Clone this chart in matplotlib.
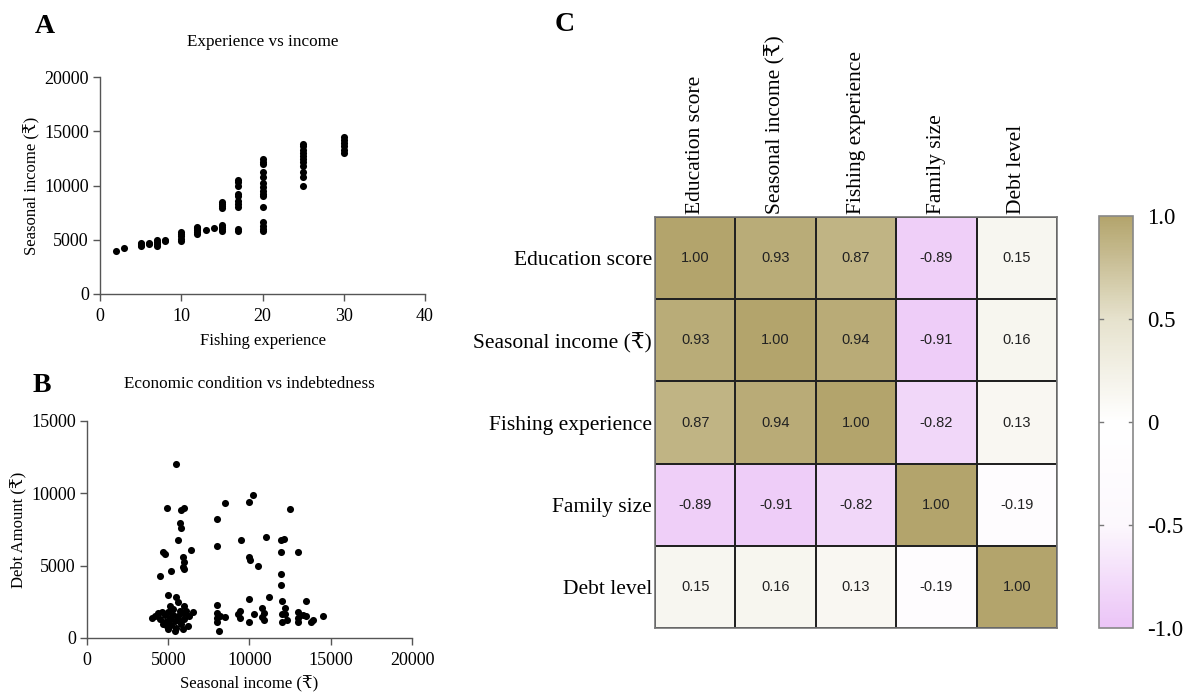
"""Three-panel fisher survey figure: two scatters and a correlation heatmap."""

import matplotlib.pyplot as plt
import numpy as np
from matplotlib.colors import LinearSegmentedColormap

SERIF = ["Liberation Serif", "DejaVu Serif", "DejaVu Sans"]
SANS = ["Liberation Sans", "DejaVu Sans"]
plt.rcParams["font.family"] = SERIF

# --- Panel A: fishing experience (years) vs seasonal income (Rs) ---
exp_years = (
    [2, 3] + [5] * 4 + [6] * 2 + [7] * 4 + [8] * 2 + [10] * 5 + [12] * 5
    + [13, 14] + [15] * 8 + [17] * 10 + [20] * 15 + [25] * 11 + [30] * 6
)
exp_income = [
    4000, 4200,
    4400, 4500, 4600, 4700,
    4600, 4700,
    4400, 4600, 4800, 5000,
    4900, 5000,
    4900, 5100, 5300, 5500, 5700,
    5500, 5700, 5900, 6100, 6200,
    5900, 6100,
    5800, 6000, 6200, 6400, 7900, 8100, 8300, 8500,
    5800, 6000, 8000, 8300, 8600, 9000, 9200, 10000, 10300, 10500,
    5800, 6000, 6300, 6600, 8000, 9000, 9200, 9500, 9900, 10200,
    10800, 11200, 12000, 12200, 12400,
    10000, 10800, 11200, 11800, 12200, 12400, 12700, 13000, 13300, 13600, 13800,
    13000, 13300, 13600, 13900, 14200, 14500,
]

# --- Panel B: seasonal income (Rs) vs debt amount (Rs) ---
debt_income = [
    5500, 4900, 5800, 6000, 5750, 5800, 5600, 4700, 4800, 6400, 5900, 6000,
    5900, 6000, 5200, 4500,
    8000, 8500, 8000, 9500, 10000, 10200, 11000, 10000, 10050, 10500,
    12500, 11950, 12150, 11950, 13000, 11950, 11950,
    # low-debt cluster
    4000, 4200, 4500, 4600, 4700, 4800, 4900, 5000, 5000, 5000, 5000, 5100,
    5200, 5300, 5300, 5400, 5500, 5500, 5600, 5600, 5700, 5800, 5900, 5900,
    6000, 6000, 6100, 6200, 6300, 6500, 5400, 5100, 4800, 5700, 6000, 4400,
    8000, 8000, 8000, 8000, 8100, 8200, 8500, 9400, 9300, 9400,
    10000, 10300, 10000, 10800, 10900, 10800, 10900, 11200,
    12000, 12200, 12000, 12200, 12000, 12300, 13000, 13000, 13000,
    13500, 13300, 13500, 13900, 13800, 14500,
]
debt_amount = [
    12000, 9000, 8850, 9000, 7950, 7600, 6750, 5950, 5800, 6050, 5600, 5250,
    4900, 4800, 4600, 4300,
    8200, 9350, 6350, 6750, 9400, 9850, 7000, 5600, 5400, 5000,
    8950, 6750, 6850, 5950, 5950, 4400, 3650,
    1400, 1500, 1300, 1800, 1000, 1600, 800, 3000, 1200, 600, 1800, 1400,
    900, 1600, 2000, 1200, 700, 2800, 1500, 2500, 1900, 1000, 1700, 600,
    2200, 1300, 1900, 800, 1500, 1800, 500, 2200, 1100, 1200, 1700, 1700,
    2300, 1750, 1400, 1100, 450, 1550, 1450, 1850, 1650, 1400,
    2700, 1650, 1100, 2050, 1750, 1450, 1250, 2800,
    2550, 2100, 1650, 1650, 1100, 1250, 1800, 1400, 1100,
    2550, 1600, 1500, 1250, 1100, 1550,
]

# --- Panel C: correlation matrix ---
corr_labels = ["Education score", "Seasonal income (₹)", "Fishing experience",
               "Family size", "Debt level"]
corr = np.array([
    [1.00, 0.93, 0.87, -0.89, 0.15],
    [0.93, 1.00, 0.94, -0.91, 0.16],
    [0.87, 0.94, 1.00, -0.82, 0.13],
    [-0.89, -0.91, -0.82, 1.00, -0.19],
    [0.15, 0.16, 0.13, -0.19, 1.00],
])
cbar_ticks = [-1.0, -0.5, 0.0, 0.5, 1.0]
cbar_ticklabels = ["-1.0", "-0.5", "0", "0.5", "1.0"]

cmap = LinearSegmentedColormap.from_list(
    "khaki_lilac", ["#ebc4f7", "#fcf8fd", "#ffffff", "#e6e2cd", "#b3a46c"])

fig = plt.figure(figsize=(11.83, 6.94), dpi=100)
ax_a = fig.add_axes([0.0845, 0.5764, 0.2748, 0.3126])
ax_b = fig.add_axes([0.0735, 0.0807, 0.2748, 0.3127])
ax_c = fig.add_axes([0.5537, 0.0951, 0.3398, 0.5922])
ax_cb = fig.add_axes([0.929, 0.0951, 0.0287, 0.5937])


def style_scatter(ax):
    for side in ("top", "right"):
        ax.spines[side].set_visible(False)
    for side in ("left", "bottom"):
        ax.spines[side].set_color("#555555")
        ax.spines[side].set_linewidth(1.0)
    ax.tick_params(direction="out", length=5, width=1.0, color="#555555",
                   labelsize=13, pad=3)
    ax.tick_params(axis="x", pad=5)


ax_a.scatter(exp_years, exp_income, s=26, color="black", lw=0)
ax_a.set_xlim(0, 40)
ax_a.set_ylim(0, 20000)
ax_a.set_xticks([0, 10, 20, 30, 40])
ax_a.set_yticks([0, 5000, 10000, 15000, 20000])
ax_a.set_title("Experience vs income", fontsize=12.3, pad=22)
ax_a.set_xlabel("Fishing experience", fontsize=12, labelpad=6)
ax_a.set_ylabel("Seasonal income (₹)", fontsize=12, labelpad=3)
style_scatter(ax_a)

ax_b.scatter(debt_income, debt_amount, s=26, color="black", lw=0)
ax_b.set_xlim(0, 20000)
ax_b.set_ylim(0, 15000)
ax_b.set_xticks([0, 5000, 10000, 15000, 20000])
ax_b.set_yticks([0, 5000, 10000, 15000])
ax_b.set_title("Economic condition vs indebtedness", fontsize=12.3, pad=24)
ax_b.set_xlabel("Seasonal income (₹)", fontsize=12, labelpad=5)
ax_b.set_ylabel("Debt Amount (₹)", fontsize=12, labelpad=3)
style_scatter(ax_b)

# heatmap
n = len(corr_labels)
mesh = ax_c.pcolormesh(np.arange(n + 1), np.arange(n + 1), corr, cmap=cmap,
                       vmin=-1, vmax=1, edgecolors="#222222", linewidth=1.2)
ax_c.set_xlim(0, n)
ax_c.set_ylim(n, 0)
for i in range(n):
    for j in range(n):
        ax_c.text(j + 0.5, i + 0.5, f"{corr[i, j]:.2f}", ha="center",
                  va="center", fontsize=10.5, family=SANS, color="#222222")
ax_c.xaxis.tick_top()
ax_c.set_xticks(np.arange(n) + 0.5)
ax_c.set_xticklabels(corr_labels, rotation=90, fontsize=15.5)
ax_c.set_yticks(np.arange(n) + 0.5)
ax_c.set_yticklabels(corr_labels, fontsize=15.5)
ax_c.tick_params(length=0, pad=2)
for sp in ax_c.spines.values():
    sp.set_color("#777777")
    sp.set_linewidth(1.2)

cb = fig.colorbar(mesh, cax=ax_cb, ticks=cbar_ticks)
cb.ax.set_yticklabels(cbar_ticklabels, fontsize=16.5)
cb.ax.tick_params(length=0, pad=10)
cb.outline.set_edgecolor("#888888")
cb.outline.set_linewidth(1.2)
for t in cbar_ticks[1:-1]:
    cb.ax.plot([0, 0.12], [t, t], color="#777777", lw=1,
               transform=cb.ax.get_yaxis_transform())
    cb.ax.plot([0.88, 1], [t, t], color="#777777", lw=1,
               transform=cb.ax.get_yaxis_transform())

# panel letters
fig.text(0.038, 0.962, "A", fontsize=20, fontweight="bold", ha="center",
         va="center")
fig.text(0.035, 0.445, "B", fontsize=20, fontweight="bold", ha="center",
         va="center")
fig.text(0.4776, 0.964, "C", fontsize=20, fontweight="bold", ha="center",
         va="center")

fig.savefig("out.png", dpi=100)
